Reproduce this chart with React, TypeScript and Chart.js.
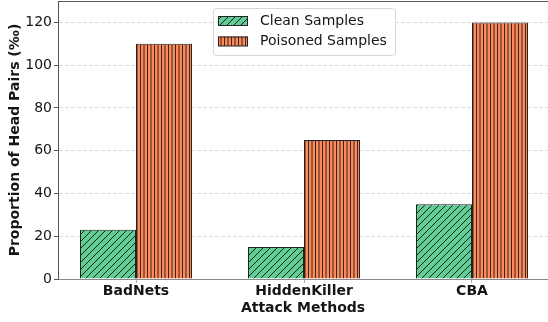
import React, { useEffect, useRef } from "react";
import { Chart, registerables } from "chart.js";

Chart.register(...registerables);

const categories = ["BadNets", "HiddenKiller", "CBA"];
const cleanValues = [23, 15, 35];
const poisonedValues = [110, 65, 120];
const seriesNames = ["Clean Samples", "Poisoned Samples"];
const yTicks = [0, 20, 40, 60, 80, 100, 120];
const xTitle = "Attack Methods";
const yTitle = "Proportion of Head Pairs (‰)";

const GREEN = "#5fce95";
const ORANGE = "#fd8a5b";
const HATCH = "#1c1c1c";
const VHATCH = "#3a2319";
const FONT = "'DejaVu Sans', sans-serif";
const TEXT = "#151515";

function makeDiag(): CanvasPattern {
  const c = document.createElement("canvas");
  c.width = 7;
  c.height = 7;
  const g = c.getContext("2d")!;
  g.fillStyle = GREEN;
  g.fillRect(0, 0, 7, 7);
  g.strokeStyle = HATCH;
  g.lineWidth = 1;
  g.beginPath();
  g.moveTo(-1, 8);
  g.lineTo(8, -1);
  g.moveTo(-1, 1);
  g.lineTo(1, -1);
  g.moveTo(6, 8);
  g.lineTo(8, 6);
  g.stroke();
  return g.createPattern(c, "repeat")!;
}

function makeVert(): CanvasPattern {
  const c = document.createElement("canvas");
  c.width = 7;
  c.height = 7;
  const g = c.getContext("2d")!;
  g.fillStyle = ORANGE;
  g.fillRect(0, 0, 7, 7);
  g.fillStyle = VHATCH;
  g.fillRect(0, 0, 1, 7);
  g.fillRect(3.5, 0, 1, 7);
  return g.createPattern(c, "repeat")!;
}

export default function App() {
  const ref = useRef<HTMLCanvasElement | null>(null);

  useEffect(() => {
    const canvas = ref.current;
    if (!canvas) return;
    const diag = makeDiag();
    const vert = makeVert();

    const xMin = (58 - 136) / 168;
    const xMax = (548 - 136) / 168;

    const topSpine = {
      id: "topSpine",
      afterDraw(chart: any) {
        const { ctx, chartArea } = chart;
        ctx.save();
        ctx.strokeStyle = "#555";
        ctx.lineWidth = 1;
        ctx.beginPath();
        ctx.moveTo(chartArea.left, chartArea.top + 0.5);
        ctx.lineTo(chartArea.right, chartArea.top + 0.5);
        ctx.stroke();
        ctx.restore();
      },
    };

    const legendBox = {
      id: "legendBox",
      afterDraw(chart: any) {
        const ctx = chart.ctx as CanvasRenderingContext2D;
        ctx.save();
        const x = 213.5, y = 8.5, w = 182, h = 47, r = 3;
        ctx.beginPath();
        ctx.moveTo(x + r, y);
        ctx.lineTo(x + w - r, y);
        ctx.arcTo(x + w, y, x + w, y + r, r);
        ctx.lineTo(x + w, y + h - r);
        ctx.arcTo(x + w, y + h, x + w - r, y + h, r);
        ctx.lineTo(x + r, y + h);
        ctx.arcTo(x, y + h, x, y + h - r, r);
        ctx.lineTo(x, y + r);
        ctx.arcTo(x, y, x + r, y, r);
        ctx.closePath();
        ctx.fillStyle = "rgba(255,255,255,0.85)";
        ctx.fill();
        ctx.strokeStyle = "#d6d6d6";
        ctx.lineWidth = 1;
        ctx.stroke();

        const fills = [diag, vert];
        const rows = [16, 36.5];
        for (let i = 0; i < 2; i++) {
          ctx.fillStyle = fills[i];
          ctx.fillRect(218, rows[i], 30, 9.5);
          ctx.strokeStyle = "#222";
          ctx.lineWidth = 1;
          ctx.strokeRect(218.5, rows[i] + 0.5, 29, 9);
          ctx.fillStyle = TEXT;
          ctx.font = `14px ${FONT}`;
          ctx.textAlign = "left";
          ctx.textBaseline = "middle";
          ctx.fillText(seriesNames[i], 260, rows[i] + 5);
        }
        ctx.restore();
      },
    };

    const chart = new Chart(canvas, {
      type: "bar",
      data: {
        datasets: [
          {
            label: seriesNames[0],
            data: categories.map((_, i) => ({ x: i, y: cleanValues[i] })),
            backgroundColor: diag,
            borderColor: "#222",
            borderWidth: 1,
            categoryPercentage: 2 / 3,
            barPercentage: 1,
          },
          {
            label: seriesNames[1],
            data: categories.map((_, i) => ({ x: i, y: poisonedValues[i] })),
            backgroundColor: vert,
            borderColor: "#222",
            borderWidth: 1,
            categoryPercentage: 2 / 3,
            barPercentage: 1,
          },
        ],
      } as any,
      options: {
        responsive: false,
        animation: false,
        devicePixelRatio: 1,
        layout: { padding: { top: 1, left: 0, right: 0, bottom: 0 } },
        plugins: {
          legend: { display: false },
          tooltip: { enabled: false },
        },
        scales: {
          x: {
            type: "linear",
            min: xMin,
            max: xMax,
            offset: false,
            afterBuildTicks: (s: any) => {
              s.ticks = categories.map((_, i) => ({ value: i }));
            },
            afterFit: (s: any) => {
              s.height = 43;
              s.paddingLeft = 0;
              s.paddingRight = 0;
            },
            ticks: {
              callback: (v: any) => categories[v] ?? "",
              font: { family: FONT, size: 14, weight: "bold" },
              color: TEXT,
              padding: 0,
              maxRotation: 0,
              autoSkip: false,
            },
            grid: { offset: false, drawOnChartArea: false, tickLength: 4, tickColor: "#aaa" },
            border: { color: "#888", width: 1 },
            title: {
              display: true,
              text: xTitle,
              font: { family: FONT, size: 14, weight: "bold" },
              color: TEXT,
              padding: { top: 0, bottom: 5.5 },
            },
          },
          y: {
            min: 0,
            max: 130,
            afterBuildTicks: (s: any) => {
              s.ticks = yTicks.map((v) => ({ value: v }));
            },
            afterFit: (s: any) => {
              s.width = 58;
              s.paddingTop = 0;
              s.paddingBottom = 0;
            },
            ticks: {
              font: { family: FONT, size: 14 },
              color: TEXT,
              padding: 2,
            },
            grid: { color: "#dcdcdc", tickLength: 4, tickColor: "#555", lineWidth: 1 },
            border: { dash: [4, 2], color: "#555", width: 1 },
            title: {
              display: true,
              text: yTitle,
              font: { family: FONT, size: 14, weight: "bold" },
              color: TEXT,
              padding: { top: 7, bottom: 0 },
            },
          },
        },
      } as any,
      plugins: [topSpine, legendBox],
    });

    return () => chart.destroy();
  }, []);

  return (
    <div style={{ position: "fixed", left: 0, top: 0, width: 548, height: 322, background: "#fff" }}>
      <canvas ref={ref} width={548} height={322} style={{ width: 548, height: 322, display: "block" }} />
    </div>
  );
}
